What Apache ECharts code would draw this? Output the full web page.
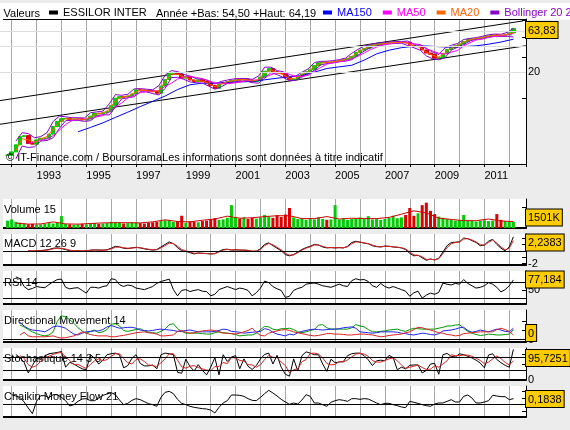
<!DOCTYPE html>
<html>
<head>
<meta charset="utf-8">
<script src="https://cdn.jsdelivr.net/npm/echarts@6.0.0/dist/echarts.min.js"></script>
<style>
html, body { margin: 0; padding: 0; background: #ececec; }
#chart { width: 570px; height: 430px; }
</style>
</head>
<body>
<div id="chart"></div>
<script>
// ESSILOR INTER, releves tous les 2 mois a partir de t0
var t0 = 1991.833

var price = [
  2.2, 2.4, 2.9, 3.6, 3.7, 3.0, 2.95, 3.3, 3.45, 3.45, 3.85, 4.7,
  5.4, 5.8, 5.85, 5.7, 5.75, 5.8, 5.6, 5.75, 6.2, 6.7, 6.6, 6.8,
  7.0, 8.2, 10.0, 10.4, 10.3, 10.6, 11.2, 12.5, 12.4, 12.3, 12.2, 11.9,
  11.4, 13.8, 16.4, 19.5, 19.5, 18.8, 17.0, 17.8, 16.2, 15.6, 16.3, 15.6,
  15.0, 14.0, 13.0, 14.6, 15.2, 15.5, 16.0, 16.3, 16.2, 16.5, 16.2, 15.5,
  15.9, 17.5, 20.5, 22.0, 20.2, 19.5, 19.3, 17.5, 16.5, 16.6, 17.7, 19.0,
  20.2, 21.3, 23.8, 25.6, 26.0, 25.8, 26.2, 26.7, 27.2, 27.8, 28.6, 30.3,
  33.8, 35.8, 37.4, 40.2, 40.9, 41.7, 42.5, 43.0, 43.5, 43.9, 44.1, 44.2,
  44.0, 41.0, 39.8, 40.0, 36.0, 33.2, 32.0, 29.0, 29.5, 32.8, 36.4, 38.6,
  40.3, 42.2, 45.0, 47.5, 48.4, 49.0, 49.6, 51.0, 52.4, 53.9, 53.2, 52.9,
  53.8, 56.8, 63.8
]

// volume en milliers de titres
var volume = [
  1800, 2100, 1500, 1300, 1100, 900, 1000, 800, 900, 1000, 1200, 1100,
  1300, 2900, 1000, 900, 800, 900, 1000, 900, 1100, 1200, 1000, 1100,
  1200, 1500, 1400, 1300, 1100, 1200, 1400, 1300, 1200, 1100, 1300, 1400,
  1500, 1700, 1900, 1800, 1500, 1700, 3000, 1300, 1600, 1500, 1400, 1700,
  1800, 2200, 2400, 2000, 2100, 2500, 5600, 2700, 2300, 2600, 2200, 2500,
  2300, 2600, 3200, 2800, 2500, 3100, 2700, 3300, 4900, 2600, 2200, 2400,
  2000, 2300, 2100, 2600, 2200, 2000, 2100, 5600, 2100, 2300, 2000, 2200,
  2400, 2600, 2200, 2900, 2100, 2300, 2000, 2200, 2500, 3000, 2400, 2600,
  3200, 4900, 3000, 3600, 5600, 6200, 4200, 3400, 2800, 2500, 2200, 2000,
  1800, 1900, 3200, 1800, 1700, 1600, 1800, 1900, 1700, 1800, 3400, 2000,
  1700, 1600, 1500
]
// moyenne volume 15, un point par semestre depuis 1992.17
var volMa = [
  1200, 950, 1000, 1500, 1000, 950, 1100, 1250, 1300, 1300,
  1250, 1500, 2000, 1600, 1500, 1900, 2200, 2900, 2400, 2500,
  2800, 3000, 3000, 2300, 2300, 2800, 2200, 2400, 2300, 2300,
  2600, 3400, 4200, 3700, 2400, 2100, 1800, 1800, 2200, 1700, 1600
]

// moyennes mobiles (trimestre) et MA150 (semestre)
var ma150 = [
  4.1, 4.6, 5.2, 6.0, 6.9, 8.0, 9.2, 10.6, 12.6, 14.3, 14.9, 14.9,
  15.2, 15.4, 15.6, 16.3, 17.0, 17.6, 18.3, 20.0, 22.0, 23.0, 24.0, 27.5,
  32.5, 35.8, 38.3, 39.8, 40.0, 39.3, 38.8, 39.4, 40.2, 42.0, 44.5, 48.0
]
var ma50 = [
  3.0, 3.12,
  3.27, 3.39, 3.7, 4.28, 4.97, 5.53, 5.75, 5.72, 5.8, 6.1, 6.3, 6.9,
  7.9, 8.8, 10.1, 10.8, 11.6, 11.9, 12.1, 12.3, 13.7, 14.9, 16.6, 17.5,
  17.9, 17.3, 16.8, 15.9, 15.0, 14.9, 14.7, 14.95, 15.3, 16.0, 16.1, 16.3,
  17.6, 18.6, 19.9, 19.8, 18.8, 17.85, 17.8, 18.4, 20.5, 22.6, 24.75, 25.7,
  26.4, 26.9, 28.4, 30.6, 33.2, 36.4, 38.8, 41.0, 42.5, 43.4, 43.8, 43.5,
  42.2, 40.8, 37.1, 35.0, 32.9, 32.2, 34.0, 35.5, 40.2, 43.7, 46.9, 48.4,
  50.6, 51.5, 52.8, 53.8, 55.7
]
var ma20 = [
  2.5, 3.4, 3.3, 3.1, 3.4, 3.6, 4.4, 5.3, 5.8, 5.75, 5.75, 5.65,
  6.1, 6.6, 6.75, 7.4, 9.4, 10.3, 10.6, 11.5, 12.4, 12.25, 11.9, 12.3,
  15.5, 19.0, 18.8, 17.6, 16.6, 15.9, 15.7, 14.8, 13.6, 14.5, 15.5, 16.0,
  16.3, 16.35, 15.8, 16.4, 19.7, 21.2, 19.7, 18.7, 16.8, 17.0, 18.8, 20.4,
  23.3, 25.4, 25.9, 26.3, 27.1, 27.9, 30.3, 33.9, 37.3, 40.0, 41.6, 42.5,
  43.4, 43.9, 44.1, 43.0, 40.2, 38.6, 33.9, 31.2, 29.8, 33.4, 38.2, 40.7,
  44.5, 47.4, 48.9, 50.0, 52.2, 53.4, 53.1, 54.6, 57.0
]
var bollUp = [
  3.2, 4.0, 3.9, 3.5, 3.6, 4.0, 5.4, 6.2, 6.1, 5.95, 5.95, 5.9,
  6.8, 6.95, 7.1, 8.6, 11.0, 10.8, 11.1, 12.8, 12.9, 12.7, 12.5, 14.0,
  18.5, 20.8, 20.3, 18.8, 18.0, 16.8, 16.6, 15.9, 14.6, 15.6, 16.2, 16.7,
  16.9, 16.9, 16.5, 18.0, 22.8, 22.8, 20.8, 20.2, 17.8, 18.0, 20.0, 21.8,
  25.8, 26.6, 26.7, 27.1, 27.9, 29.0, 33.0, 36.6, 39.8, 41.8, 43.0, 43.7,
  44.5, 45.0, 45.2, 45.6, 42.3, 41.6, 37.5, 34.2, 32.0, 38.0, 40.8, 42.8,
  47.6, 49.0, 50.0, 51.8, 54.0, 55.0, 54.6, 57.5, 64.0
]
var bollLow = [
  2.0, 2.8, 2.7, 2.75, 3.2, 3.25, 3.5, 4.5, 5.5, 5.55, 5.55, 5.4,
  5.5, 6.25, 6.45, 6.4, 7.9, 9.8, 10.1, 10.4, 11.9, 11.8, 11.3, 10.9,
  13.0, 17.3, 17.4, 16.5, 15.4, 15.1, 14.9, 13.8, 12.7, 13.5, 14.8, 15.3,
  15.7, 15.8, 15.1, 14.9, 17.0, 19.7, 18.7, 17.3, 15.9, 16.1, 17.6, 19.0,
  21.0, 24.2, 25.1, 25.5, 26.3, 26.8, 27.8, 31.4, 35.0, 38.3, 40.2, 41.3,
  42.3, 42.8, 43.0, 40.5, 38.2, 35.8, 30.7, 28.5, 27.7, 29.4, 35.8, 38.7,
  41.6, 45.8, 47.8, 48.3, 50.5, 51.8, 51.6, 51.8, 50.8
]
// canal : [annee, cours] aux deux extremites
var trendUp = [[1991.53, 9.38], [2012.55, 77.9]]
var trendLow = [[1991.53, 5.0], [2012.67, 40.3]]

// indicateurs (meme pas de 2 mois, indice de depart en commentaire)
var macd = [ // i5
  0.0, -0.05, 0.0, 0.05, 0.1, 0.2, 0.4, 0.45, 0.35, 0.2, 0.0, -0.05,
  0.0, -0.05, 0.0, 0.1, 0.15, 0.1, 0.1, 0.15, 0.4, 0.7, 0.6, 0.4,
  0.35, 0.45, 0.55, 0.45, 0.3, 0.2, 0.1, 0.2, 0.6, 1.0, 1.4, 1.1,
  0.5, 0.0, -0.1, -0.3, -0.5, -0.35, -0.4, -0.45, -0.5, -0.45, -0.1, 0.2,
  0.25, 0.1, 0.15, 0.1, 0.1, 0.05, -0.1, -0.05, 0.3, 1.0, 1.25, 0.8,
  0.4, 0.0, -0.6, -0.8, -0.6, -0.2, 0.2, 0.5, 0.7, 1.0, 0.9, 0.6,
  0.45, 0.5, 0.45, 0.5, 0.45, 0.7, 1.3, 1.5, 1.35, 1.2, 1.1, 0.8,
  0.65, 0.6, 0.75, 0.7, 0.6, 0.55, 0.45, 0.2, -0.4, -0.8, -0.7, -1.1,
  -1.5, -1.3, -1.45, -1.2, -0.2, 0.8, 1.3, 1.35, 1.4, 2.0, 1.9, 1.6,
  1.3, 0.8, 0.9, 1.5, 1.8, 1.0, 0.4, 0.0, 0.6, 2.2
]
var macdSignal = [ // i5
  0.0, -0.02, -0.02, 0.02, 0.06, 0.14, 0.3, 0.4, 0.38, 0.28, 0.1, 0.0,
  0.0, -0.02, 0.0, 0.06, 0.12, 0.12, 0.1, 0.13, 0.3, 0.55, 0.6, 0.48,
  0.4, 0.42, 0.5, 0.48, 0.36, 0.25, 0.15, 0.17, 0.45, 0.8, 1.2, 1.15,
  0.7, 0.2, 0.0, -0.2, -0.4, -0.38, -0.4, -0.43, -0.48, -0.46, -0.2, 0.1,
  0.2, 0.15, 0.15, 0.12, 0.1, 0.07, -0.05, -0.05, 0.2, 0.8, 1.15, 0.95,
  0.55, 0.15, -0.4, -0.7, -0.65, -0.3, 0.1, 0.4, 0.62, 0.9, 0.92, 0.7,
  0.52, 0.5, 0.47, 0.48, 0.46, 0.62, 1.1, 1.4, 1.38, 1.25, 1.12, 0.9,
  0.7, 0.62, 0.7, 0.7, 0.63, 0.57, 0.48, 0.28, -0.2, -0.65, -0.72, -0.95,
  -1.35, -1.35, -1.4, -1.25, -0.45, 0.5, 1.1, 1.3, 1.38, 1.85, 1.9, 1.7,
  1.4, 0.95, 0.9, 1.3, 1.7, 1.2, 0.6, 0.15, 0.4, 1.6
]
var rsi = [ // i2
  85, 80, 60, 52, 55, 60, 58, 57, 65, 72, 78, 79,
  58, 54, 56, 57, 50, 43, 58, 58, 56, 60, 62, 80,
  78, 65, 60, 64, 62, 56, 54, 52, 56, 60, 68, 73,
  76, 79, 52, 36, 50, 52, 47, 50, 52, 48, 47, 36,
  40, 52, 56, 60, 56, 52, 56, 54, 50, 36, 44, 56,
  74, 70, 60, 54, 50, 32, 35, 50, 55, 58, 66, 68,
  69, 66, 62, 60, 58, 62, 66, 62, 60, 75, 80, 77,
  78, 73, 62, 58, 68, 60, 56, 60, 56, 52, 48, 35,
  44, 48, 30, 38, 43, 40, 45, 69, 66, 64, 68, 66,
  78, 68, 62, 56, 58, 62, 70, 66, 58, 46, 52, 62,
  77
]
var adx = [ // i3
  32, 28, 22, 17, 13, 10, 8, 10, 17, 40, 53, 50,
  44, 36, 26, 19, 14, 18, 21, 15, 17, 22, 34, 35,
  30, 20, 18, 20, 22, 24, 19, 16, 15, 14, 18, 23,
  33, 35, 24, 18, 14, 14, 14, 14, 13, 12, 12, 15,
  17, 15, 14, 13, 11, 8, 9, 10, 10, 14, 22, 29,
  28, 23, 21, 24, 24, 25, 22, 17, 15, 17, 20, 22,
  32, 33, 26, 23, 23, 23, 23, 23, 26, 33, 30, 28,
  22, 17, 17, 18, 19, 21, 22, 23, 20, 18, 22, 25,
  24, 23, 23, 23, 23, 25, 27, 30, 30, 32, 33, 25,
  18, 14, 11, 9, 10, 12, 11, 10, 10, 11, 12, 22
]
var diPlus = [ // i3
  38, 30, 24, 21, 20, 19, 17, 22, 28, 30, 28, 25,
  18, 12, 10, 14, 17, 18, 19, 19, 22, 28, 31, 28,
  25, 26, 27, 27, 25, 21, 20, 19, 20, 22, 23, 22,
  21, 20, 18, 18, 20, 21, 19, 17, 17, 17, 17, 18,
  20, 23, 22, 18, 17, 16, 14, 15, 16, 17, 18, 24,
  22, 16, 12, 10, 8, 12, 10, 15, 18, 20, 22, 23,
  22, 21, 22, 23, 23, 24, 26, 27, 28, 25, 17, 16,
  15, 14, 15, 17, 17, 17, 17, 16, 14, 13, 11, 10,
  12, 14, 13, 11, 10, 13, 19, 20, 21, 23, 26, 27,
  20, 16, 18, 21, 19, 17, 20, 23, 21, 18, 17, 25
]
var diMinus = [ // i3
  10, 16, 8, 6, 6, 6, 6, 7, 8, 5, 3, 4,
  6, 8, 12, 17, 14, 11, 9, 8, 8, 8, 6, 6,
  8, 9, 11, 13, 15, 16, 17, 15, 14, 12, 8, 8,
  9, 10, 18, 20, 16, 14, 15, 17, 19, 20, 21, 20,
  17, 14, 14, 13, 12, 14, 17, 20, 25, 16, 9, 8,
  14, 17, 19, 21, 22, 20, 17, 15, 13, 11, 9, 8,
  9, 11, 13, 13, 12, 12, 11, 10, 10, 11, 12, 12,
  11, 10, 8, 6, 7, 9, 10, 11, 12, 15, 17, 22,
  27, 26, 23, 21, 18, 15, 14, 11, 10, 8, 9, 13,
  14, 15, 16, 17, 17, 17, 17, 22, 25, 22, 18, 10
]
var stochK = [ // i2
  80, 70, 55, 22, 45, 68, 64, 75, 82, 84, 86, 89,
  40, 55, 50, 42, 35, 32, 79, 68, 50, 62, 79, 82,
  84, 79, 38, 45, 68, 79, 52, 44, 44, 47, 35, 79,
  84, 82, 79, 24, 21, 65, 42, 28, 48, 30, 16, 40,
  70, 16, 79, 58, 72, 76, 35, 66, 43, 33, 45, 66,
  80, 84, 50, 77, 40, 18, 12, 66, 28, 76, 88, 84,
  79, 79, 50, 27, 65, 54, 56, 58, 76, 82, 84, 84,
  76, 63, 45, 60, 62, 60, 77, 70, 32, 40, 35, 46,
  47, 47, 22, 30, 50, 52, 18, 79, 83, 74, 72, 82,
  79, 74, 69, 62, 53, 38, 78, 82, 64, 54, 46, 40,
  95.7
]
var stochD = [ // i3
  76, 68, 48, 40, 45, 59, 69, 74, 80, 84, 86, 72,
  61, 48, 49, 42, 36, 49, 60, 66, 60, 64, 74, 82,
  82, 67, 54, 50, 64, 66, 58, 47, 45, 42, 54, 66,
  82, 82, 62, 41, 37, 43, 45, 39, 35, 31, 29, 42,
  42, 55, 51, 70, 69, 61, 59, 48, 47, 40, 48, 64,
  77, 71, 70, 56, 45, 23, 32, 35, 57, 64, 83, 84,
  81, 69, 52, 47, 49, 58, 56, 63, 72, 81, 83, 81,
  74, 61, 56, 56, 61, 66, 69, 60, 47, 36, 40, 43,
  47, 39, 33, 34, 44, 40, 50, 60, 79, 76, 76, 78,
  78, 74, 68, 61, 51, 56, 66, 75, 67, 55, 47, 60
]
var cmf = [ // i1
  0.3, 0.26, 0.22, 0.08, -0.1, -0.27, 0.1, 0.27, 0.27, 0.21, 0.3, 0.3,
  0.22, 0.12, -0.04, 0.0, 0.1, 0.17, 0.18, 0.12, 0.12, 0.2, 0.28, 0.32,
  0.36, 0.3, 0.14, 0.0, 0.04, 0.13, 0.18, 0.15, 0.09, 0.03, 0.0, -0.05,
  0.22, 0.37, 0.4, 0.33, 0.16, 0.04, 0.0, -0.05, -0.08, -0.1, -0.12, -0.13,
  -0.16, -0.25, -0.08, 0.05, 0.12, 0.29, 0.29, 0.28, 0.25, 0.18, 0.13, 0.12,
  0.22, 0.33, 0.43, 0.35, 0.26, 0.16, 0.08, 0.01, 0.05, 0.02, 0.14, 0.3,
  0.25, 0.05, 0.05, 0.0, -0.05, 0.07, 0.12, 0.15, 0.13, 0.1, 0.18, 0.18,
  0.16, 0.18, 0.17, 0.11, 0.05, 0.0, 0.04, 0.04, 0.0, -0.03, -0.07, -0.09,
  0.1, 0.07, 0.04, 0.0, -0.03, -0.05, 0.02, 0.05, 0.05, 0.1, 0.15, 0.08,
  0.08, 0.25, 0.29, 0.2, 0.05, 0.05, 0.08, 0.12, 0.28, 0.26, 0.24, 0.24,
  0.15, 0.18
]

var FONT = '"Liberation Sans", Arial, sans-serif'
var GREEN = '#00cc00'
var RED = '#dd0000'

function onGrid (values, from) {
  return values.map(function (v, i) { return [t0 + (from + i) / 6, v] })
}
function stepped (start, step, values) {
  return values.map(function (v, i) { return [start + i * step, v] })
}

var candles = price.map(function (c, i) {
  var o = i === 0 ? c : price[i - 1]
  return [t0 + i / 6, o, c, Math.min(o, c), Math.max(o, c)]
})
var volBars = volume.map(function (v, i) {
  var up = i === 0 || price[i] >= price[i - 1]
  return { value: [t0 + i / 6, v], itemStyle: { color: up ? GREEN : RED } }
})

var panels = [
  { top: 19, height: 145 },
  { top: 199, height: 29 },
  { top: 234, height: 31 },
  { top: 271, height: 33 },
  { top: 310, height: 32 },
  { top: 348, height: 32 },
  { top: 386, height: 31 }
]

function yearLabel (v) {
  var y = Math.round(v)
  if (Math.abs(v - y) > 0.01 || y % 2 === 0 || y < 1993) return ''
  return String(y)
}

var xAxes = panels.map(function (p, i) {
  return {
    type: 'value', gridIndex: i, min: 1991, max: 2012.672, interval: 1,
    axisLine: { onZero: false, lineStyle: { color: '#000', width: i === 0 ? 1 : 2 } },
    axisTick: { show: i === 0, length: 3, lineStyle: { color: '#000' } },
    axisLabel: { show: i === 0, align: 'left', margin: 6, fontSize: 11, color: '#000', fontFamily: FONT, formatter: yearLabel },
    splitLine: { show: true, lineStyle: { color: '#a8a8a8', width: 1 } }
  }
})

function yAx (i, o) {
  var base = {
    gridIndex: i, position: 'right', type: 'value',
    splitLine: { show: false },
    axisLine: { show: true, onZero: false, lineStyle: { color: '#000' } },
    axisTick: { inside: true, length: 4, lineStyle: { color: '#000' } },
    axisLabel: { show: false, margin: 2, fontSize: 11, color: '#000', fontFamily: FONT }
  }
  for (var k in o) {
    if (typeof o[k] === 'object' && base[k]) base[k] = Object.assign({}, base[k], o[k])
    else base[k] = o[k]
  }
  return base
}

var yAxes = [
  yAx(0, { type: 'log', logBase: 10, min: 1.74, max: 82,
    axisTick: { customValues: [10, 20, 30, 40, 50, 60, 80] },
    axisLabel: { show: true, customValues: [20] } }),
  yAx(1, { min: 0, max: 7100, axisTick: { customValues: [5000] } }),
  yAx(2, { min: -2.24, max: 2.64, axisTick: { customValues: [-2, -1, 1, 2] },
    axisLabel: { show: true, customValues: [-2] } }),
  yAx(3, { min: 15, max: 100, axisTick: { customValues: [30, 50, 70] },
    axisLabel: { show: true, customValues: [50] } }),
  yAx(4, { min: -5.6, max: 65.5, axisTick: { customValues: [0, 20, 40] },
    axisLabel: { show: true, customValues: [0] } }),
  yAx(5, { min: 0, max: 100, axisTick: { customValues: [0, 50, 80] },
    axisLabel: { show: true, customValues: [0] } }),
  yAx(6, { min: -0.37, max: 0.56, axisTick: { customValues: [-0.2, 0.2, 0.4] } })
]

function line (name, idx, data, color, extra) {
  var s = {
    name: name, type: 'line', xAxisIndex: idx, yAxisIndex: idx, data: data,
    symbol: 'none', showSymbol: false, silent: true,
    itemStyle: { color: color }, lineStyle: { color: color, width: 1 }
  }
  return Object.assign(s, extra || {})
}
function levels (values, color) {
  return {
    silent: true, symbol: 'none', label: { show: false },
    lineStyle: { color: color || '#000', width: 1, type: 'solid' },
    data: values.map(function (v) { return { yAxis: v } })
  }
}

var series = [
  line('', 0, trendUp, '#000', { z: 1, markLine: levels([20, 40, 60], '#dddddd') }),
  line('', 0, trendLow, '#000', { z: 1 }),
  line('MA150', 0, stepped(1994.67, 0.5, ma150), '#0000ff'),
  line('Bollinger 20 2', 0, stepped(1992.17, 0.25, bollUp), '#8800cc'),
  line('Bollinger 20 2', 0, stepped(1992.17, 0.25, bollLow), '#8800cc'),
  line('MA50', 0, stepped(1992.67, 0.25, ma50), '#ff00ff'),
  line('MA20', 0, stepped(1992.17, 0.25, ma20), '#ff6600'),
  {
    name: 'ESSILOR INTER', type: 'candlestick', xAxisIndex: 0, yAxisIndex: 0,
    data: candles, encode: { x: 0, y: [1, 2, 3, 4] }, barWidth: 4, silent: true,
    itemStyle: { color: GREEN, color0: RED, borderColor: GREEN, borderColor0: RED, borderWidth: 1 }
  },
  { type: 'bar', xAxisIndex: 1, yAxisIndex: 1, data: volBars, barWidth: 3, silent: true },
  line('', 1, stepped(1992.17, 0.5, volMa), '#cc0000'),
  line('', 2, onGrid(macd, 5), '#000', { markLine: levels([0]) }),
  line('', 2, onGrid(macdSignal, 5), '#dd2222'),
  line('', 3, onGrid(rsi, 2), '#000', { markLine: levels([30, 70]) }),
  line('', 4, onGrid(adx, 3), '#009900', { markLine: levels([0]) }),
  line('', 4, onGrid(diPlus, 3), '#2222ee'),
  line('', 4, onGrid(diMinus, 3), '#dd2222'),
  line('', 5, onGrid(stochK, 2), '#000', { markLine: levels([30, 70]) }),
  line('', 5, onGrid(stochD, 3), '#dd2222'),
  line('', 6, onGrid(cmf, 1), '#000', { markLine: levels([0]) })
]

function txt (text, x, y, z, color) {
  return { type: 'text', x: x, y: y, z: z || 1, silent: true,
    style: { text: text, font: '11px ' + FONT, fill: color || '#000', verticalAlign: 'middle' } }
}
function box (text, x, y) {
  return { type: 'text', x: x, y: y, z: 100, silent: true,
    style: { text: text, font: '11px ' + FONT, fill: '#000', backgroundColor: '#ffcc00',
      borderColor: '#000', borderWidth: 1, padding: [3, 2, 2, 2] } }
}

var graphics = [
  { type: 'rect', z: 0, silent: true, shape: { x: 0, y: 3, width: 570, height: 16.5 }, style: { fill: '#fff' } },
  { type: 'rect', z: 50, silent: true, shape: { x: 0, y: 165, width: 3, height: 265 }, style: { fill: '#ececec' } },
  { type: 'line', z: 5, silent: true, shape: { x1: 3, y1: 19.5, x2: 526, y2: 19.5 }, style: { stroke: '#000', lineWidth: 1 } },
  txt('Valeurs', 3.5, 14),
  txt('Année +Bas: 54,50 +Haut: 64,19', 156, 14),
  txt('© IT-Finance.com / BoursoramaLes informations sont données à titre indicatif', 6, 157.5, 3),
  txt('Volume 15', 4, 210),
  txt('MACD 12 26 9', 4, 244),
  txt('RSI 14', 4, 282.5),
  txt('Directional Movement 14', 4, 321),
  txt('Stochastique 14 3 5', 4, 358.5),
  txt('Chaikin Money Flow 21', 4, 397),
  box('63,83', 526, 22),
  box('1501K', 526, 209.5),
  box('2,2383', 526, 234.5),
  box('77,184', 526, 271.5),
  box('0', 526, 325),
  box('95,7251', 526, 350),
  box('0,1838', 526, 391)
]

var legendBase = {
  top: 7, padding: 0, itemWidth: 9, itemHeight: 4, itemGap: 11, icon: 'rect',
  selectedMode: false, textStyle: { fontSize: 11, fontFamily: FONT, color: '#000' }
}

var chart = echarts.init(document.getElementById('chart'), null, { renderer: 'canvas' })
chart.setOption({
  animation: false,
  backgroundColor: '#ececec',
  grid: panels.map(function (p) {
    return { left: -13.2, right: 44, top: p.top, height: p.height, show: true,
      backgroundColor: '#fff', borderWidth: 0, containLabel: false, outerBoundsMode: 'none' }
  }),
  legend: [
    Object.assign({}, legendBase, { left: 49, width: 150,
      itemStyle: { color: '#000', borderColor: '#000', borderWidth: 0 },
      data: [{ name: 'ESSILOR INTER', icon: 'rect', itemStyle: { color: '#000', borderColor: '#000', borderWidth: 0 } }] }),
    Object.assign({}, legendBase, { left: 323, width: 400,
      data: [
        { name: 'MA150', textStyle: { color: '#0000ff' } },
        { name: 'MA50', textStyle: { color: '#ff00ff' } },
        { name: 'MA20', textStyle: { color: '#ff6600' } },
        { name: 'Bollinger 20 2', textStyle: { color: '#8800cc' } }
      ] })
  ],
  xAxis: xAxes,
  yAxis: yAxes,
  series: series,
  graphic: { elements: graphics }
})
window.addEventListener('resize', function () {
  chart.resize()
})
</script>
</body>
</html>
